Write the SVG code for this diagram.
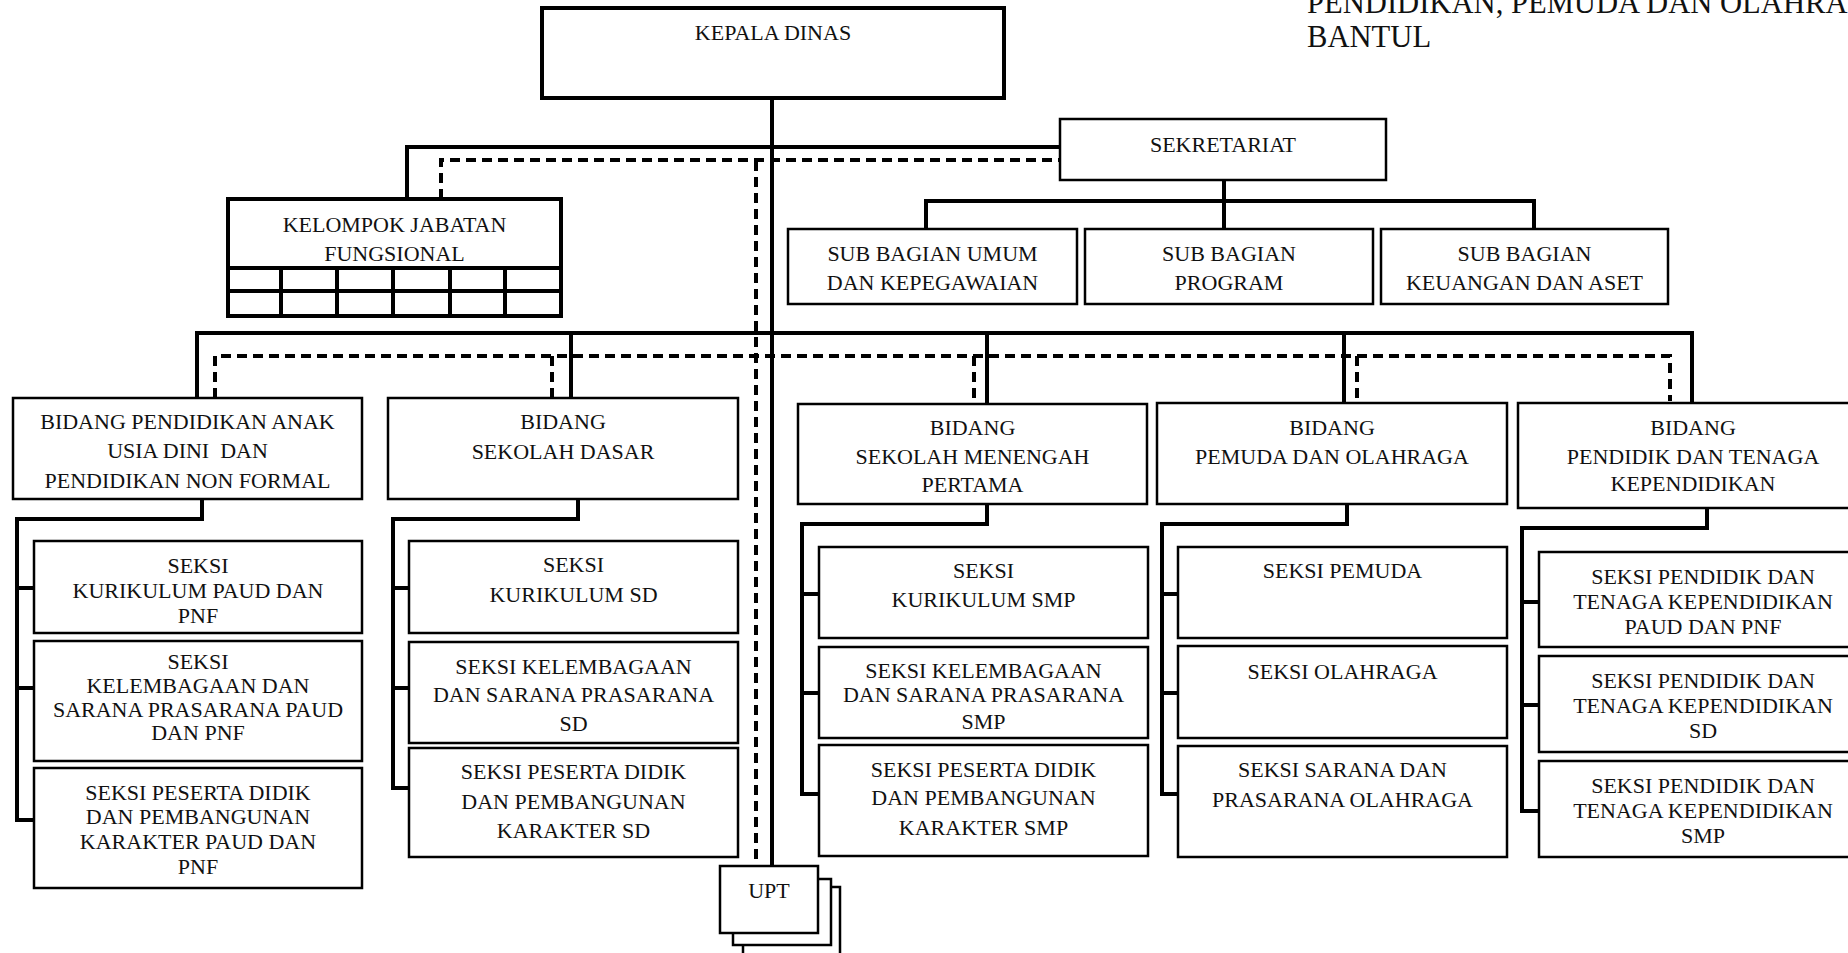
<svg xmlns="http://www.w3.org/2000/svg" width="1848" height="953" viewBox="0 0 1848 953">
<style>
.bg{fill:#fff}
.box{fill:#fff;stroke:#000;stroke-width:2.5}
.thick{fill:#fff;stroke:#000;stroke-width:4}
.t{font-family:"Liberation Serif","Times New Roman",serif;font-size:22px;fill:#111;text-anchor:middle}
.title{font-family:"Liberation Serif","Times New Roman",serif;font-size:30.6px;fill:#111}
.ket{font-family:"Liberation Serif","Times New Roman",serif;font-size:22px;font-weight:bold;fill:#111}
.ln{fill:none;stroke:#000;stroke-width:4;stroke-linecap:square}
.dash{fill:none;stroke:#000;stroke-width:4;stroke-dasharray:10 6}
</style>
<rect class="bg" x="0" y="0" width="1848" height="953"/>
<text class="title" x="1307" y="13">PENDIDIKAN, PEMUDA DAN OLAHRAGA</text>
<text class="title" x="1307" y="47">BANTUL</text>
<text class="ket" x="58" y="967">Keterangan :</text>

<g id="connectors">
  <path class="ln" d="M772 98 V866"/>
  <path class="dash" d="M756 161 V866"/>
  <path class="ln" d="M407 199 V147 H1060"/>
  <path class="dash" d="M441 199 V160 H1060"/>
  <path class="ln" d="M1224 180 V229 M926 229 V201 H1534 V229"/>
  <path class="ln" d="M197 398 V333 H1692 V401 M571 333 V398 M987 333 V404 M1344 333 V403"/>
  <path class="dash" d="M215 398 V356 H1670 V401 M552 356 V398 M974 356 V404 M1357 356 V403"/>
  <path class="ln" d="M202 499 V519 H17 V820 H34 M17 588 H34 M17 688 H34"/>
  <path class="ln" d="M578 499 V519 H393 V788 H409 M393 588 H409 M393 688 H409"/>
  <path class="ln" d="M987 504 V524 H802 V794 H819 M802 594 H819 M802 693 H819"/>
  <path class="ln" d="M1347 504 V524 H1162 V794 H1178 M1162 594 H1178 M1162 693 H1178"/>
  <path class="ln" d="M1707 508 V528 H1522 V811 H1539 M1522 602 H1539 M1522 705 H1539"/>
</g>

<g id="kepala-dinas">
  <rect class="thick" x="542" y="8" width="462" height="90"/>
  <text class="t" x="773" y="40">KEPALA DINAS</text>
</g>

<g id="kelompok-jabatan-fungsional">
  <rect class="thick" x="228" y="199" width="333" height="117"/>
  <path class="ln" d="M228 268 H561 M228 291 H561 M281 268 V316 M337 268 V316 M393 268 V316 M450 268 V316 M505 268 V316"/>
  <text class="t" x="394.5" y="232">KELOMPOK JABATAN</text>
  <text class="t" x="394.5" y="261">FUNGSIONAL</text>
</g>

<g id="sekretariat">
  <rect class="box" x="1060" y="119" width="326" height="61"/>
  <text class="t" x="1223" y="152">SEKRETARIAT</text>
</g>

<g id="sub-bagian-umum">
  <rect class="box" x="788" y="229" width="289" height="75"/>
  <text class="t" x="932.5" y="261">SUB BAGIAN UMUM</text>
  <text class="t" x="932.5" y="290">DAN KEPEGAWAIAN</text>
</g>
<g id="sub-bagian-program">
  <rect class="box" x="1085" y="229" width="288" height="75"/>
  <text class="t" x="1229" y="261">SUB BAGIAN</text>
  <text class="t" x="1229" y="290">PROGRAM</text>
</g>
<g id="sub-bagian-keuangan">
  <rect class="box" x="1381" y="229" width="287" height="75"/>
  <text class="t" x="1524.5" y="261">SUB BAGIAN</text>
  <text class="t" x="1524.5" y="290">KEUANGAN DAN ASET</text>
</g>

<g id="bidang-paud">
  <rect class="box" x="13" y="398" width="349" height="101"/>
  <text class="t" x="187.5" y="429">BIDANG PENDIDIKAN ANAK</text>
  <text class="t" x="187.5" y="458">USIA DINI&#160; DAN</text>
  <text class="t" x="187.5" y="487.5">PENDIDIKAN NON FORMAL</text>
</g>
<g id="bidang-sd">
  <rect class="box" x="388" y="398" width="350" height="101"/>
  <text class="t" x="563" y="429">BIDANG</text>
  <text class="t" x="563" y="459">SEKOLAH DASAR</text>
</g>
<g id="bidang-smp">
  <rect class="box" x="798" y="404" width="349" height="100"/>
  <text class="t" x="972.5" y="435">BIDANG</text>
  <text class="t" x="972.5" y="464">SEKOLAH MENENGAH</text>
  <text class="t" x="972.5" y="491.5">PERTAMA</text>
</g>
<g id="bidang-pemuda">
  <rect class="box" x="1157" y="403" width="350" height="101"/>
  <text class="t" x="1332" y="434.5">BIDANG</text>
  <text class="t" x="1332" y="464">PEMUDA DAN OLAHRAGA</text>
</g>
<g id="bidang-ptk">
  <rect class="box" x="1518" y="403" width="350" height="105"/>
  <text class="t" x="1693" y="434.5">BIDANG</text>
  <text class="t" x="1693" y="463.5">PENDIDIK DAN TENAGA</text>
  <text class="t" x="1693" y="490.5">KEPENDIDIKAN</text>
</g>

<g id="seksi-kurikulum-paud">
  <rect class="box" x="34" y="541" width="328" height="92"/>
  <text class="t" x="198" y="572.5">SEKSI</text>
  <text class="t" x="198" y="597.5">KURIKULUM PAUD DAN</text>
  <text class="t" x="198" y="622.5">PNF</text>
</g>
<g id="seksi-kelembagaan-paud">
  <rect class="box" x="34" y="641" width="328" height="120"/>
  <text class="t" x="198" y="669">SEKSI</text>
  <text class="t" x="198" y="692.5">KELEMBAGAAN DAN</text>
  <text class="t" x="198" y="716.5">SARANA PRASARANA PAUD</text>
  <text class="t" x="198" y="739.5">DAN PNF</text>
</g>
<g id="seksi-peserta-paud">
  <rect class="box" x="34" y="768" width="328" height="120"/>
  <text class="t" x="198" y="799.5">SEKSI PESERTA DIDIK</text>
  <text class="t" x="198" y="824">DAN PEMBANGUNAN</text>
  <text class="t" x="198" y="849">KARAKTER PAUD DAN</text>
  <text class="t" x="198" y="874">PNF</text>
</g>

<g id="seksi-kurikulum-sd">
  <rect class="box" x="409" y="541" width="329" height="92"/>
  <text class="t" x="573.5" y="572">SEKSI</text>
  <text class="t" x="573.5" y="602">KURIKULUM SD</text>
</g>
<g id="seksi-kelembagaan-sd">
  <rect class="box" x="409" y="642" width="329" height="101"/>
  <text class="t" x="573.5" y="673.5">SEKSI KELEMBAGAAN</text>
  <text class="t" x="573.5" y="701.5">DAN SARANA PRASARANA</text>
  <text class="t" x="573.5" y="730.5">SD</text>
</g>
<g id="seksi-peserta-sd">
  <rect class="box" x="409" y="748" width="329" height="109"/>
  <text class="t" x="573.5" y="779">SEKSI PESERTA DIDIK</text>
  <text class="t" x="573.5" y="808.5">DAN PEMBANGUNAN</text>
  <text class="t" x="573.5" y="837.5">KARAKTER SD</text>
</g>

<g id="seksi-kurikulum-smp">
  <rect class="box" x="819" y="547" width="329" height="91"/>
  <text class="t" x="983.5" y="578">SEKSI</text>
  <text class="t" x="983.5" y="606.5">KURIKULUM SMP</text>
</g>
<g id="seksi-kelembagaan-smp">
  <rect class="box" x="819" y="647" width="329" height="91"/>
  <text class="t" x="983.5" y="677.5">SEKSI KELEMBAGAAN</text>
  <text class="t" x="983.5" y="701.5">DAN SARANA PRASARANA</text>
  <text class="t" x="983.5" y="728.5">SMP</text>
</g>
<g id="seksi-peserta-smp">
  <rect class="box" x="819" y="745" width="329" height="111"/>
  <text class="t" x="983.5" y="776.5">SEKSI PESERTA DIDIK</text>
  <text class="t" x="983.5" y="804.5">DAN PEMBANGUNAN</text>
  <text class="t" x="983.5" y="835">KARAKTER SMP</text>
</g>

<g id="seksi-pemuda">
  <rect class="box" x="1178" y="547" width="329" height="91"/>
  <text class="t" x="1342.5" y="578">SEKSI PEMUDA</text>
</g>
<g id="seksi-olahraga">
  <rect class="box" x="1178" y="646" width="329" height="92"/>
  <text class="t" x="1342.5" y="678.5">SEKSI OLAHRAGA</text>
</g>
<g id="seksi-sarana-olahraga">
  <rect class="box" x="1178" y="746" width="329" height="111"/>
  <text class="t" x="1342.5" y="777">SEKSI SARANA DAN</text>
  <text class="t" x="1342.5" y="806.5">PRASARANA OLAHRAGA</text>
</g>

<g id="seksi-ptk-paud">
  <rect class="box" x="1539" y="552" width="328" height="95"/>
  <text class="t" x="1703" y="583.5">SEKSI PENDIDIK DAN</text>
  <text class="t" x="1703" y="608.5">TENAGA KEPENDIDIKAN</text>
  <text class="t" x="1703" y="633.5">PAUD DAN PNF</text>
</g>
<g id="seksi-ptk-sd">
  <rect class="box" x="1539" y="656" width="328" height="96"/>
  <text class="t" x="1703" y="687.5">SEKSI PENDIDIK DAN</text>
  <text class="t" x="1703" y="712.5">TENAGA KEPENDIDIKAN</text>
  <text class="t" x="1703" y="737.5">SD</text>
</g>
<g id="seksi-ptk-smp">
  <rect class="box" x="1539" y="761" width="328" height="96"/>
  <text class="t" x="1703" y="792.5">SEKSI PENDIDIK DAN</text>
  <text class="t" x="1703" y="817.5">TENAGA KEPENDIDIKAN</text>
  <text class="t" x="1703" y="842.5">SMP</text>
</g>

<g id="upt">
  <rect class="box" x="743" y="887" width="97" height="80"/>
  <rect class="box" x="733" y="879" width="98" height="66"/>
  <rect class="box" x="720" y="866" width="98" height="67"/>
  <text class="t" x="769" y="898">UPT</text>
</g>
</svg>
